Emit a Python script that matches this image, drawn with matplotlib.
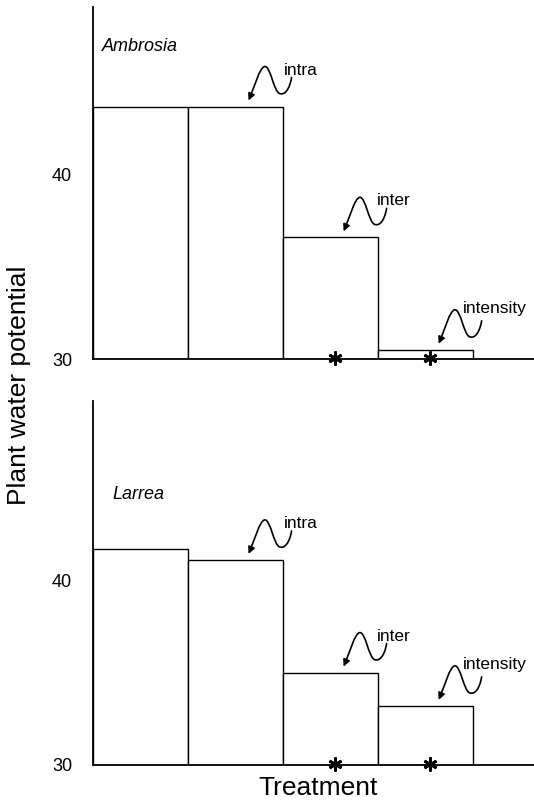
"""Plant water potential by treatment for Ambrosia and Larrea (two stacked panels)."""

import matplotlib
matplotlib.use("Agg")
import matplotlib.pyplot as plt
from matplotlib.patches import FancyArrowPatch
from matplotlib.path import Path
from matplotlib.transforms import Affine2D

plt.rcParams["font.family"] = ["Liberation Sans", "DejaVu Sans"]

# data
treatments = ["control", "intra", "inter", "intensity"]
ambrosia_values = [43.7, 43.7, 36.6, 30.5]
larrea_values = [41.7, 41.1, 35.0, 33.2]
significant = [False, False, True, True]
arrow_labels = ["", "intra", "inter", "intensity"]
species = ["Ambrosia", "Larrea"]
y_ticks = [30, 40]

# squiggle arrow shape in pixels relative to the arrow tip (y up)
SQUIGGLE_VERTS = [
    (43, 23),
    (41, 11), (36, 5), (31, 7),
    (25, 9), (22, 35), (16, 34),
    (11, 33), (6, 14), (0, 0),
]
SQUIGGLE_CODES = [Path.MOVETO] + [Path.CURVE4] * 9
TIP_OFFSET = (13, 6)  # tip position vs. bar centre, pixels
LABEL_OFFSETS = {"intra": (35, 26), "inter": (33, 26), "intensity": (24, 31)}


def draw_squiggle(fig, ax, x, y, label):
    """画带波浪线的箭头和标注"""
    scale = fig.dpi / 100
    tip = ax.transData.transform((x, y))
    tip = (tip[0] + TIP_OFFSET[0] * scale, tip[1] + TIP_OFFSET[1] * scale)
    trans = Affine2D().scale(scale).translate(*tip)
    path = Path(SQUIGGLE_VERTS, SQUIGGLE_CODES)
    arrow = FancyArrowPatch(
        path=trans.transform_path(path),
        arrowstyle="-|>",
        mutation_scale=10,
        lw=1.2,
        color="black",
    )
    arrow.set_transform(Affine2D())
    fig.patches.append(arrow)
    dx, dy = LABEL_OFFSETS[label]
    fig.text(
        (tip[0] + dx * scale) / fig.bbox.width,
        (tip[1] + dy * scale) / fig.bbox.height,
        label,
        fontsize=12.5,
        ha="left",
        va="baseline",
    )


def draw_panel(fig, rect, values, ylim_top, name, name_pos):
    ax = fig.add_axes(rect)
    x = list(range(len(values)))
    ax.bar(
        x,
        [v - 30 for v in values],
        bottom=30,
        width=1.0,
        align="edge",
        color="white",
        edgecolor="black",
        linewidth=1.0,
        zorder=2,
    )
    ax.set_xlim(0, 4.64)
    ax.set_ylim(30, ylim_top)
    ax.set_yticks(y_ticks)
    ax.tick_params(axis="y", length=0, pad=15, labelsize=13)
    ax.set_xticks([])
    for side in ["top", "right"]:
        ax.spines[side].set_visible(False)
    for side in ["left", "bottom"]:
        ax.spines[side].set_linewidth(1.3)
    ax.text(name_pos[0], name_pos[1], name, transform=ax.transAxes,
            fontsize=13, style="italic", va="center", ha="left")

    for i, (v, sig) in enumerate(zip(values, significant)):
        if sig:
            ax.plot(i + 0.55, 30.05, marker=(6, 2, 0), markersize=10,
                    mew=2.0, color="black", clip_on=False, zorder=4)
        if arrow_labels[i]:
            draw_squiggle(fig, ax, i + 0.5, v, arrow_labels[i])
    return ax


def main():
    fig = plt.figure(figsize=(5.34, 8.02), dpi=100)
    left = 93 / 534
    width = 1 - left
    draw_panel(fig, [left, 1 - 359 / 802, width, 352 / 802],
               ambrosia_values, 49.1, species[0], (0.02, 0.889))
    draw_panel(fig, [left, 1 - 765 / 802, width, 364 / 802],
               larrea_values, 49.7, species[1], (0.045, 0.742))

    fig.text(19 / 534, 1 - 385 / 802, "Plant water potential",
             rotation=90, fontsize=19, ha="center", va="center")
    fig.text(318 / 534, 1 - 788 / 802, "Treatment",
             fontsize=19, ha="center", va="center")

    fig.savefig("out.png", dpi=100)
    plt.close(fig)


if __name__ == "__main__":
    main()
